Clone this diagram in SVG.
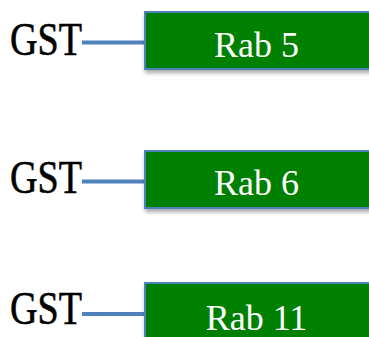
<svg xmlns="http://www.w3.org/2000/svg" width="369" height="337" viewBox="0 0 369 337">
<defs>
<filter id="sh" x="-10%" y="-10%" width="130%" height="140%">
<feGaussianBlur in="SourceAlpha" stdDeviation="2"/>
<feOffset dx="1" dy="3" result="b"/>
<feComponentTransfer><feFuncA type="linear" slope="0.35"/></feComponentTransfer>
<feMerge><feMergeNode/><feMergeNode in="SourceGraphic"/></feMerge>
</filter>
</defs>
<style>
.box{fill:#008000;stroke:#4F81BD;stroke-width:2;filter:url(#sh)}
.lbl{font-family:"Liberation Serif","DejaVu Serif",serif;font-size:36px;fill:#ffffff;text-anchor:middle}
.gst{font-family:"Liberation Serif","DejaVu Serif",serif;font-size:47px;fill:#000000;stroke:#000000;stroke-width:0.6}
.conn{stroke:#4F81BD;stroke-width:4;fill:none}
</style>
<rect width="369" height="337" fill="#ffffff"/>
<g id="connectors">
<line class="conn" x1="82" y1="42.5" x2="144" y2="42.5"/>
<line class="conn" x1="82" y1="181.5" x2="144" y2="181.5"/>
<line class="conn" x1="82" y1="314" x2="144" y2="314"/>
</g>
<g id="gst1"><text class="gst" x="10" y="55" textLength="72" lengthAdjust="spacingAndGlyphs">GST</text></g>
<g id="gst2"><text class="gst" x="10" y="193" textLength="72" lengthAdjust="spacingAndGlyphs">GST</text></g>
<g id="gst3"><text class="gst" x="10" y="324" textLength="72" lengthAdjust="spacingAndGlyphs">GST</text></g>
<g id="rab5"><rect class="box" x="145" y="12" width="240" height="57"/><text class="lbl" x="256.5" y="57">Rab 5</text></g>
<g id="rab6"><rect class="box" x="145" y="151" width="240" height="57"/><text class="lbl" x="256.5" y="195">Rab 6</text></g>
<g id="rab11"><rect class="box" x="145" y="283" width="240" height="70"/><text class="lbl" x="256.5" y="330">Rab 11</text></g>
</svg>
